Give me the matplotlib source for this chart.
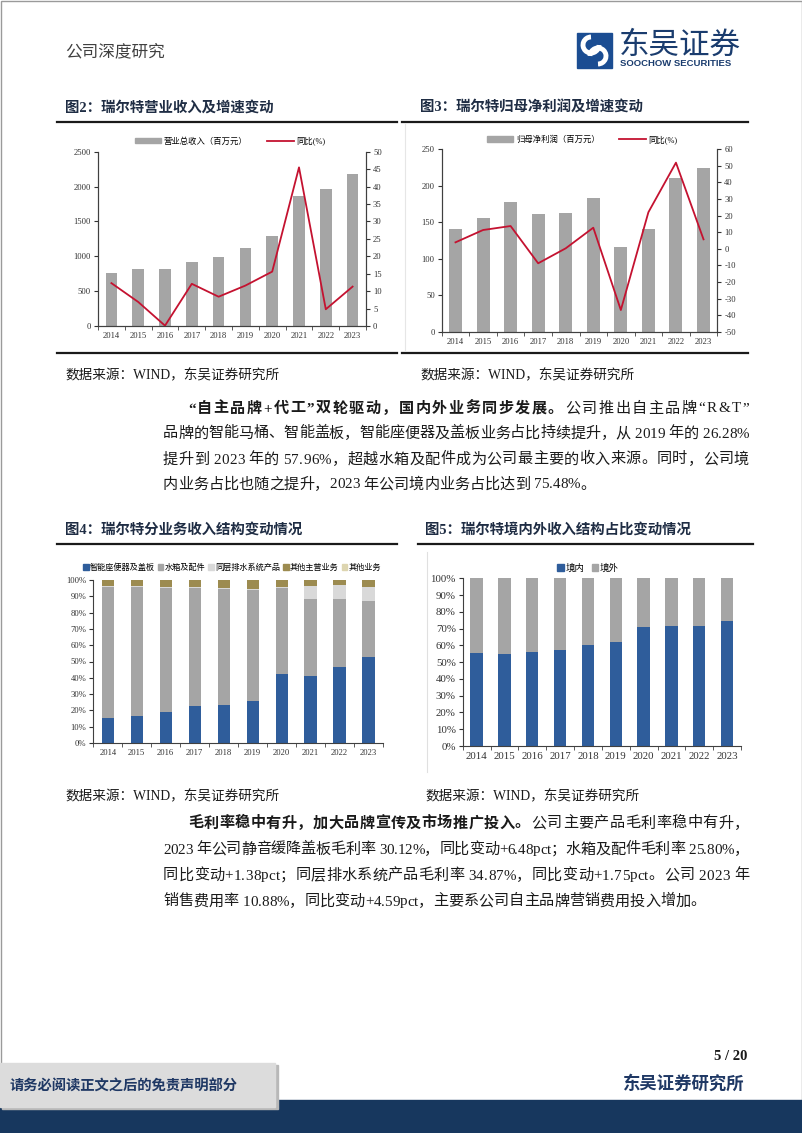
import numpy as np
import matplotlib
matplotlib.use('Agg')
import matplotlib.pyplot as plt
from matplotlib.patches import Rectangle, Patch, Arc
from matplotlib.lines import Line2D
from matplotlib.ticker import FuncFormatter

plt.rcParams['font.family'] = ['Liberation Serif', 'Noto Sans CJK SC']
plt.rcParams['axes.unicode_minus'] = False

# ---- data ----
years = ['2014', '2015', '2016', '2017', '2018', '2019', '2020', '2021', '2022', '2023']

revenue = [765, 818, 818, 918, 994, 1115, 1287, 1870, 1966, 2185]          # 百万元
revenue_yoy = [12.3, 6.9, 0.1, 12.1, 8.4, 11.6, 15.6, 45.5, 4.8, 11.3]      # %

profit = [140.7, 155.3, 177, 161, 162, 182.6, 115.7, 140.7, 211, 223.6]     # 百万元
profit_yoy = [3.9, 11.3, 13.7, -8.7, 0.3, 12.7, -36.8, 22.0, 51.8, 5.7]     # %

seg_smart = [15.3, 16.6, 19.2, 22.5, 23.3, 26.0, 42.1, 41.3, 46.8, 52.6]
seg_tank = [80.4, 79.0, 75.8, 72.5, 71.2, 68.0, 52.7, 46.9, 41.8, 34.5]
seg_drain = [0.6, 0.6, 0.6, 0.6, 0.6, 0.6, 0.6, 8.3, 8.3, 8.8]
seg_other_main = [3.4, 3.5, 4.1, 4.1, 4.6, 5.1, 4.3, 3.2, 2.8, 3.8]
seg_other = [0.3, 0.3, 0.3, 0.3, 0.3, 0.3, 0.3, 0.3, 0.3, 0.3]
seg_labels = ['智能座便器及盖板', '水箱及配件', '同层排水系统产品', '其他主营业务', '其他业务']

domestic = [55.6, 54.7, 56.0, 57.4, 60.0, 62.0, 70.8, 71.7, 71.3, 74.8]
overseas = [44.4, 45.3, 44.0, 42.6, 40.0, 38.0, 29.2, 28.3, 28.7, 25.2]

para1 = [
    [('“自主品牌+代工”双轮驱动，国内外业务同步发展。', 'bold'), ('公司推出自主品牌“R&T”', 'normal')],
    [('品牌的智能马桶、智能盖板，智能座便器及盖板业务占比持续提升，从 2019 年的 26.28%', 'normal')],
    [('提升到 2023 年的 57.96%，超越水箱及配件成为公司最主要的收入来源。同时，公司境', 'normal')],
    [('内业务占比也随之提升，2023 年公司境内业务占比达到 75.48%。', 'normal')],
]
para2 = [
    [('毛利率稳中有升，加大品牌宣传及市场推广投入。', 'bold'), ('公司主要产品毛利率稳中有升，', 'normal')],
    [('2023 年公司静音缓降盖板毛利率 30.12%，同比变动+6.48pct；水箱及配件毛利率 25.80%，', 'normal')],
    [('同比变动+1.38pct；同层排水系统产品毛利率 34.87%，同比变动+1.75pct。公司 2023 年', 'normal')],
    [('销售费用率 10.88%，同比变动+4.59pct，主要系公司自主品牌营销费用投入增加。', 'normal')],
]

GREY = '#a5a5a5'
RED = '#c41230'
BLUE = '#2f5d9b'
OLIVE = '#9c8b50'
LIGHT = '#d9d9d9'
BEIGE = '#ddd5b0'
NAVY = '#1f3864'
INK = '#1a1a1a'

W, H = 802, 1133
fig = plt.figure(figsize=(W / 100, H / 100), dpi=100)
bg = fig.add_axes([0, 0, 1, 1])
bg.set_xlim(0, W)
bg.set_ylim(H, 0)
bg.axis('off')
renderer = fig.canvas.get_renderer()


def rect(x0, y0, x1, y1):
    return [x0 / W, 1 - y1 / H, (x1 - x0) / W, (y1 - y0) / H]


def text_w(s, size, weight):
    t = bg.text(0, 0, s, fontsize=size, fontweight=weight)
    w = t.get_window_extent(renderer).width
    t.remove()
    return w


def body_line(x0, y, parts, x1=None, size=10.9):
    # place glyphs one by one so the line can be justified to x1
    glyphs = []
    cur = 0
    for s, wt in parts:
        for i, c in enumerate(s):
            if c != ' ':
                off = text_w(s[:i + 1], size, wt) - text_w(c, size, wt)
                glyphs.append((cur + off, c, wt))
        cur += text_w(s, size, wt) + 1
    extra = 0
    if x1 is not None and len(glyphs) > 1:
        extra = (x1 - x0 - cur) / (len(glyphs) - 1)
    for k, (off, c, wt) in enumerate(glyphs):
        bg.text(x0 + off + k * extra, y + 5.5, c, fontsize=size, fontweight=wt,
                color=INK, ha='left', va='baseline')


# ---- page header ----
bg.add_patch(Rectangle((0.5, 0.5), W - 1, H - 1, fill=False, ec='#9a9a9a', lw=1))
bg.text(65, 52, '公司深度研究', fontsize=12, color='#404040', va='center')
bg.add_patch(Rectangle((577, 33), 35, 35, color='#1b4d92'))
bg.add_patch(Arc((591, 45), 16, 16, theta1=0, theta2=270, color='white', lw=3.5))
bg.add_patch(Arc((598, 56), 16, 16, theta1=180, theta2=90, color='white', lw=3.5))
bg.text(619, 46, '东吴证券', fontsize=22, color='#1a3c6e', va='center')
bg.text(620, 64, 'SOOCHOW SECURITIES', fontsize=6.8, color='#1a3c6e', va='center',
        fontweight='bold', family=['Liberation Sans'])

# ---- figure titles and rules ----
titles = [(65, 108, '图2：瑞尔特营业收入及增速变动'), (420, 108, '图3：瑞尔特归母净利润及增速变动'),
          (65, 530, '图4：瑞尔特分业务收入结构变动情况'), (425, 530, '图5：瑞尔特境内外收入结构占比变动情况')]
for x, y, s in titles:
    bg.text(x, y, s, fontsize=10.4, fontweight='bold', color='#1f2d44', va='center')
for x0, x1, y in [(57, 397, 122), (402, 748, 122), (57, 397, 544), (418, 753, 544),
                  (57, 397, 353), (402, 748, 353)]:
    bg.plot([x0, x1], [y, y], color=INK, lw=1.6)
bg.plot([405, 405], [124, 350], color='#e6e6e6', lw=0.8)
bg.plot([427, 427], [552, 772], color='#e0e0e0', lw=0.8)

for x, y in [(65, 376), (420, 376), (65, 797), (425, 797)]:
    bg.text(x, y, '数据来源：WIND，东吴证券研究所', fontsize=9.8, color=INK, va='center')

# ---- body paragraphs ----
for i, (py, parts) in enumerate(zip([407, 432, 458, 483], para1)):
    body_line(188 if i == 0 else 163, py, parts, x1=750 if i < 3 else None)
for i, (py, parts) in enumerate(zip([822, 848, 874, 900], para2)):
    body_line(188 if i == 0 else 163, py, parts, x1=750 if i < 3 else None)

# ---- footer ----
bg.add_patch(Rectangle((0, 1100), W, 33, color='#17375e'))
bg.add_patch(Rectangle((2, 1065), 276, 44, color='#b8b8b8'))
bg.add_patch(Rectangle((0, 1063), 275, 44, color='#dcdcdc'))
bg.text(10, 1086, '请务必阅读正文之后的免责声明部分', fontsize=10.3, fontweight='bold',
        color=NAVY, va='center')
bg.text(747, 1057, '5 / 20', fontsize=10.5, fontweight='bold', color=INK, ha='right', va='center')
bg.text(745, 1084, '东吴证券研究所', fontsize=12.5, fontweight='bold', color=NAVY,
        ha='right', va='center')

x = np.arange(len(years))


def excel_axis(ax, size):
    ax.set_xlim(-0.5, len(years) - 0.5)
    ax.set_xticks(x)
    ax.set_xticklabels(years)
    ax.set_xticks(np.arange(-0.5, len(years), 1), minor=True)
    ax.tick_params(axis='x', which='major', length=0, labelsize=size, pad=4, colors='#333333')
    ax.tick_params(axis='x', which='minor', length=3, color='#404040')
    ax.tick_params(axis='y', length=3, labelsize=size, colors='#333333', pad=2)
    ax.spines['top'].set_visible(False)
    for sp in ax.spines.values():
        sp.set_color('#404040')
        sp.set_linewidth(0.8)


# ---- chart 1: revenue ----
ax1 = fig.add_axes(rect(98, 151.7, 366, 326))
ax1.bar(x, revenue, width=0.44, color=GREY)
ax1.set_ylim(0, 2500)
ax1.set_yticks(range(0, 2501, 500))
excel_axis(ax1, 6.2)
ax1r = ax1.twinx()
ax1r.plot(x, revenue_yoy, color=RED, lw=1.3)
ax1r.set_ylim(0, 50)
ax1r.set_yticks(range(0, 51, 5))
ax1r.tick_params(axis='y', length=3, labelsize=6.2, colors='#333333', pad=2)
ax1r.spines['top'].set_visible(False)
for sp in ax1r.spines.values():
    sp.set_color('#404040')
    sp.set_linewidth(0.8)
ax1.legend([Patch(color=GREY), Line2D([], [], color=RED, lw=1.3)],
           ['营业总收入（百万元）', '同比(%)'], loc='center', bbox_to_anchor=(230, 141),
           bbox_transform=bg.transData, ncol=2, frameon=False, fontsize=6,
           handlelength=3.2, handleheight=0.6, handletextpad=0.3, columnspacing=2.3)

# ---- chart 2: net profit ----
ax2 = fig.add_axes(rect(441.7, 149, 717.3, 332))
ax2.bar(x, profit, width=0.47, color=GREY)
ax2.set_ylim(0, 250)
ax2.set_yticks(range(0, 251, 50))
excel_axis(ax2, 6.2)
ax2r = ax2.twinx()
ax2r.plot(x, profit_yoy, color=RED, lw=1.3)
ax2r.set_ylim(-50, 60)
ax2r.set_yticks(range(-50, 61, 10))
ax2r.tick_params(axis='y', length=3, labelsize=6.2, colors='#333333', pad=2)
ax2r.spines['top'].set_visible(False)
for sp in ax2r.spines.values():
    sp.set_color('#404040')
    sp.set_linewidth(0.8)
ax2.legend([Patch(color=GREY), Line2D([], [], color=RED, lw=1.3)],
           ['归母净利润（百万元）', '同比(%)'], loc='center', bbox_to_anchor=(582, 139.5),
           bbox_transform=bg.transData, ncol=2, frameon=False, fontsize=6,
           handlelength=3.2, handleheight=0.6, handletextpad=0.3, columnspacing=2.3)

pct = FuncFormatter(lambda v, p: f'{v:.0f}%')

# ---- chart 3: business segments ----
ax3 = fig.add_axes(rect(93.3, 580, 383, 743))
bottom = np.zeros(len(years))
handles = []
for vals, col in zip([seg_smart, seg_tank, seg_drain, seg_other_main, seg_other],
                     [BLUE, GREY, LIGHT, OLIVE, BEIGE]):
    ax3.bar(x, vals, width=0.42, bottom=bottom, color=col)
    bottom += np.array(vals)
    handles.append(Patch(color=col))
ax3.set_ylim(0, 100)
ax3.set_yticks(range(0, 101, 10))
ax3.yaxis.set_major_formatter(pct)
excel_axis(ax3, 6.2)
ax3.spines['right'].set_visible(False)
ax3.legend(handles, seg_labels, loc='center', bbox_to_anchor=(232, 567.7),
           bbox_transform=bg.transData, ncol=5, frameon=False, fontsize=5.9,
           handlelength=0.7, handleheight=0.7, handletextpad=0.15, columnspacing=0.35)

# ---- chart 4: domestic vs overseas ----
ax4 = fig.add_axes(rect(462.7, 578.3, 741, 746))
ax4.bar(x, domestic, width=0.44, color=BLUE)
ax4.bar(x, overseas, width=0.44, bottom=domestic, color=GREY)
ax4.set_ylim(0, 100)
ax4.set_yticks(range(0, 101, 10))
ax4.yaxis.set_major_formatter(pct)
excel_axis(ax4, 7.8)
ax4.spines['right'].set_visible(False)
ax4.legend([Patch(color=BLUE), Patch(color=GREY)], ['境内', '境外'], loc='center',
           bbox_to_anchor=(588, 568), bbox_transform=bg.transData, ncol=2, frameon=False,
           fontsize=6.8, handlelength=0.7, handleheight=0.7, handletextpad=0.15,
           columnspacing=0.8)

fig.savefig('out.png', dpi=100, facecolor='white')
